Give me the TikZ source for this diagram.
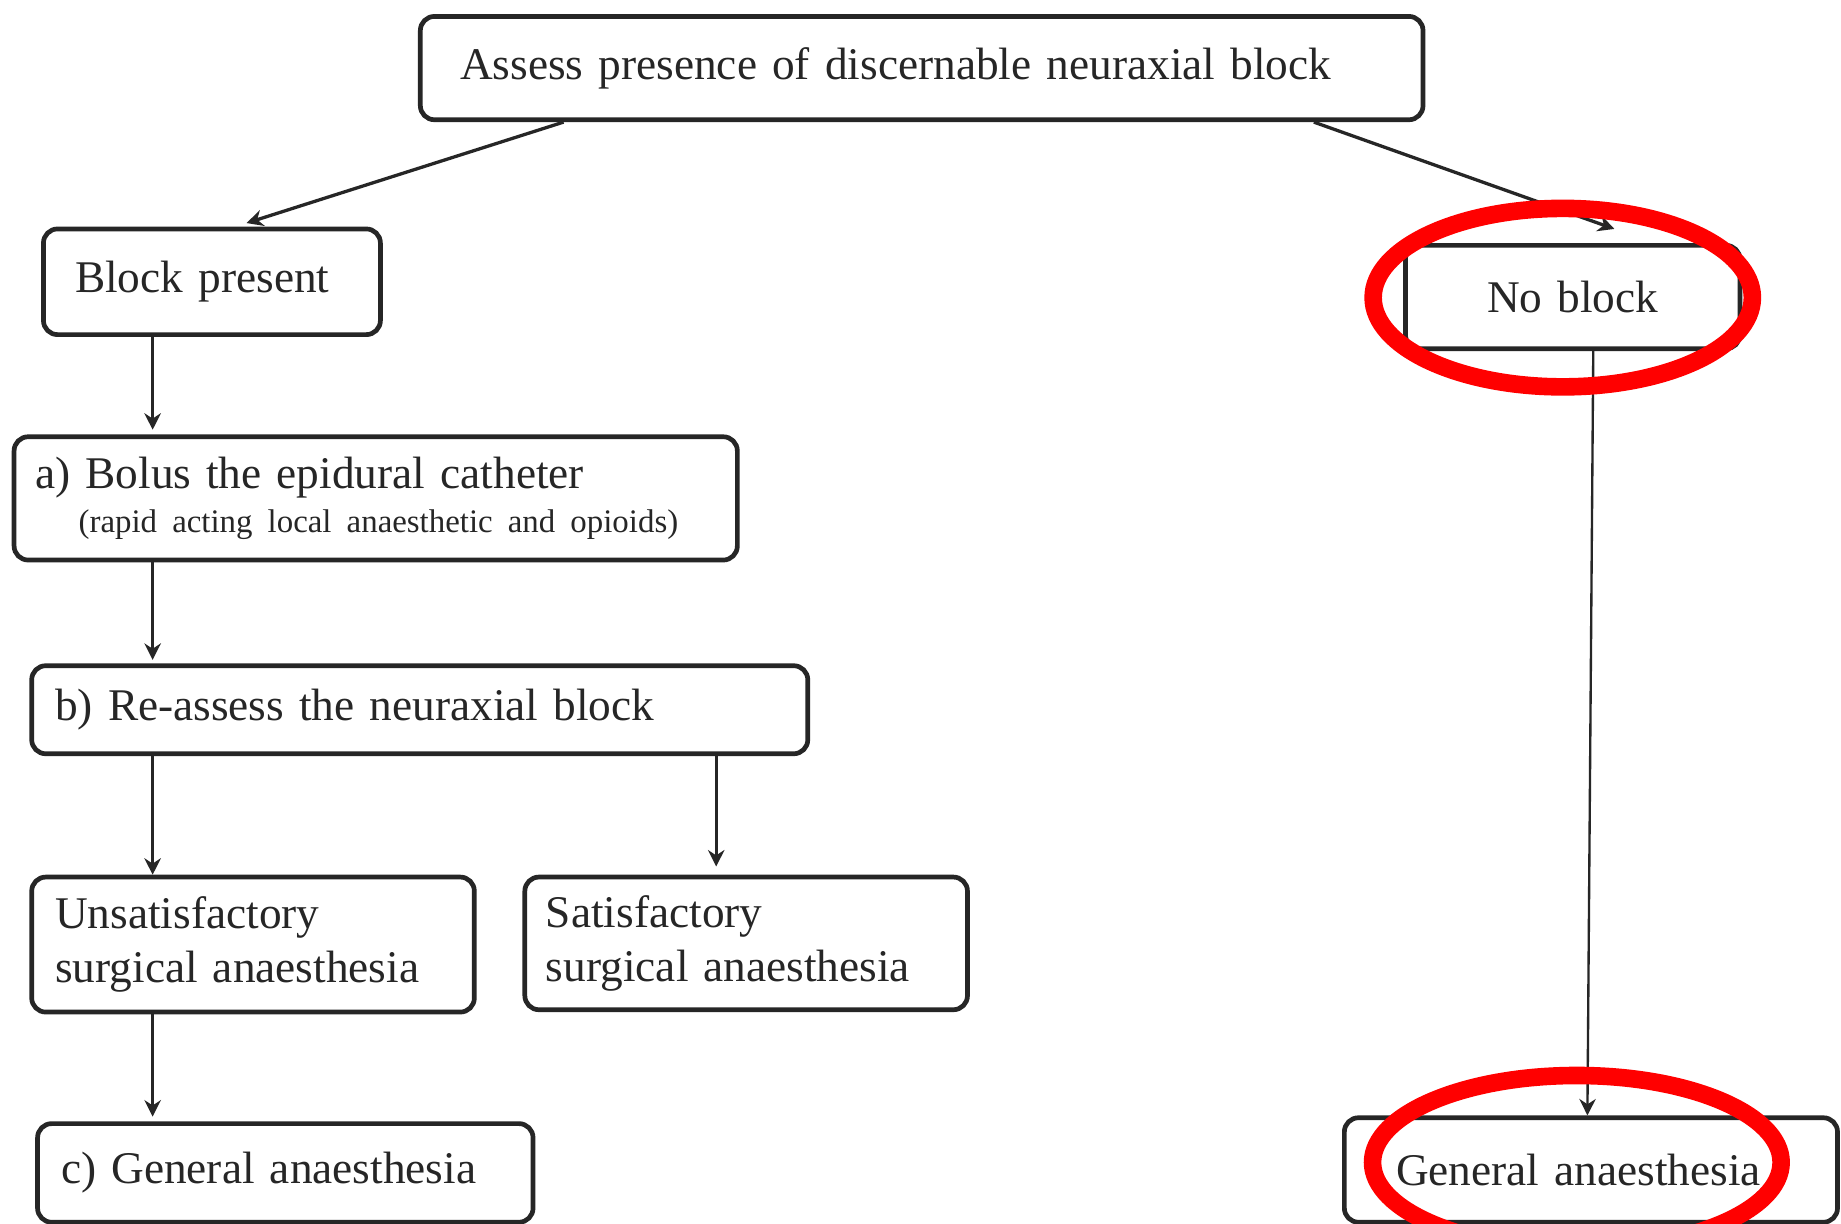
\documentclass[tikz,border=0pt]{standalone}
\usepackage{fontspec}
\setmainfont{Liberation Serif}
\usetikzlibrary{arrows.meta}
\begin{document}
\begin{tikzpicture}[x=0.5pt,y=-0.5pt,
  box/.style={draw=black!85, line width=2pt, rounded corners=6pt, anchor=north west, inner ysep=0pt,
    font=\fontsize{19.3}{23}\selectfont, text=black!85, align=left},
  arr/.style={draw=black!85, line width=1.4pt, -{Stealth[length=7pt,width=7pt]}},
  thinarr/.style={draw=black!85, line width=1pt, -{Stealth[length=7pt,width=7pt]}},
  ring/.style={draw=red, line width=7.5pt}]
\clip (0,0) rectangle (1568,1042);
\fill[white] (0,0) rectangle (1568,1042);

\node[box, minimum height=44pt, inner xsep=17pt, text width=393pt] (top) at (356,12) {Assess presence of discernable neuraxial block};
\node[box, minimum height=45pt, inner xsep=13.5pt, text width=116.5pt] (block) at (35,193) {Block present};
\node[box, minimum height=44pt, inner xsep=10pt, text width=122.5pt, align=center] (noblock) at (1195,207) {No block};
\node[box, minimum height=52.5pt, inner xsep=9pt, text width=290pt] (bolus) at (10,370) {a) Bolus the epidural catheter\\[-4pt]\hspace*{18.5pt}\mbox{\fontsize{14}{17}\selectfont (rapid acting local anaesthetic and opioids)}};
\node[box, minimum height=37.5pt, inner xsep=10pt, text width=310.5pt] (reassess) at (25,565) {b) Re-assess the neuraxial block};
\node[box, minimum height=57.5pt, inner xsep=10pt, text width=168.5pt] (unsat) at (25,745) {Unsatisfactory\\surgical anaesthesia};
\node[box, minimum height=56.5pt, inner xsep=9pt, text width=170.5pt] (sat) at (445,745) {Satisfactory\\surgical anaesthesia};
\node[box, minimum height=42pt, inner xsep=10pt, text width=191pt] (gaL) at (30,955) {c) General anaesthesia};
\node[box, minimum height=44.5pt, inner xsep=22pt, text width=166pt] (gaR) at (1143,950) {General anaesthesia};

\draw[arr] ([xshift=62pt]top.south west) -- ([xshift=87.5pt,yshift=1.5pt]block.north west);
\draw[arr] ([xshift=-47.5pt]top.south east) -- ([xshift=90pt,yshift=6pt]noblock.north west);
\draw[arr] ([xshift=47.5pt]block.south west) -- ([xshift=60pt,yshift=2pt]bolus.north west);
\draw[arr] ([xshift=60pt]bolus.south west) -- ([xshift=52.5pt,yshift=1.5pt]reassess.north west);
\draw[arr] ([xshift=52.5pt]reassess.south west) -- ([xshift=52.5pt]unsat.north west);
\draw[arr] ([xshift=292.5pt]reassess.south west) -- ([xshift=82.5pt,yshift=3.5pt]sat.north west);
\draw[arr] ([xshift=52.5pt]unsat.south west) -- ([xshift=50pt,yshift=2pt]gaL.north west);
\draw[thinarr] ([xshift=81pt]noblock.south west) -- ([xshift=104.5pt]gaR.north west);

\draw[ring] (1331,253.5) ellipse [x radius=80.75pt, y radius=38pt];
\draw[ring] (1343,990) ellipse [x radius=87pt, y radius=37pt];
\end{tikzpicture}
\end{document}
